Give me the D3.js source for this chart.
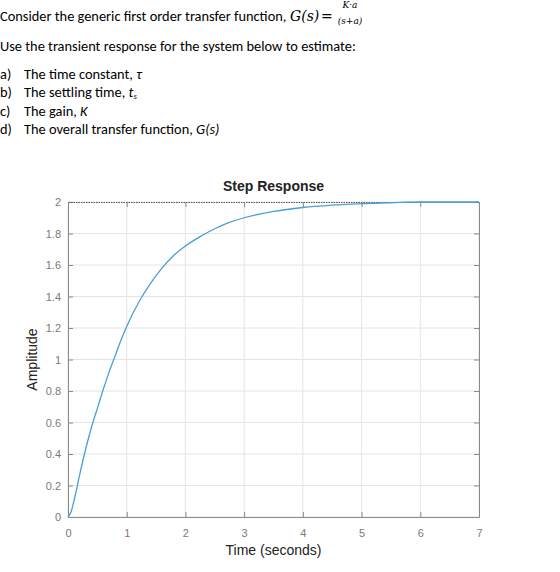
<!DOCTYPE html>
<html>
<head>
	<script type="text/javascript" src="https://cdn.jsdelivr.net/npm/d3@7"></script>
	<style type="text/css">
		body { margin: 0; background: #fff; }
		.doc { font-family: Carlito, Lato, "Open Sans", sans-serif; font-size: 14.4px; fill: #000; }
		.math { font-family: "DejaVu Serif", "Liberation Serif", serif; font-style: italic; fill: #000; }
		.axis path, .axis line { stroke: #8a8a8a; }
		.axis text { fill: #7a7a7a; font-family: "Liberation Sans", Arial, sans-serif; font-size: 11px; }
		.grid line { stroke: #e4e4e4; stroke-width: 1px; }
		.lbl { font-family: "Liberation Sans", Arial, sans-serif; fill: #222; }
	</style>
</head>
<body>
<script type="text/javascript">

var width = 560,
	height = 572;

// question text
var intro = "Consider the generic first order transfer function, ";
var lead = "Use the transient response for the system below to estimate:";
var items = [
	{ tag: "a)", text: "The time constant, ", sym: "\u03C4" },
	{ tag: "b)", text: "The settling time, ", sym: "t", sub: "s" },
	{ tag: "c)", text: "The gain, ", sym: "K" },
	{ tag: "d)", text: "The overall transfer function, ", sym: "G(s)" }
];

// step response
var time = [0, 0.05, 0.1, 0.2, 0.3, 0.4, 0.5, 0.6, 0.7, 0.8, 0.9, 1.0, 1.2, 1.4, 1.6, 1.8, 2.0, 2.25, 2.5, 2.75, 3, 3.5, 4, 4.5, 5, 5.5, 6, 7];
var amp = [0, 0.03, 0.1, 0.27, 0.43, 0.57, 0.69, 0.81, 0.92, 1.02, 1.12, 1.21, 1.36, 1.48, 1.58, 1.66, 1.72, 1.78, 1.83, 1.87, 1.9, 1.94, 1.965, 1.98, 1.99, 1.995, 2.0, 2.0];
var xTicks = [0, 1, 2, 3, 4, 5, 6, 7];
var yTicks = [0, 0.2, 0.4, 0.6, 0.8, 1, 1.2, 1.4, 1.6, 1.8, 2];

var svg = d3.select("body").append("svg")
	.attr("width", width)
	.attr("height", height);

// text block
svg.append("text").attr("class", "doc").attr("x", 0).attr("y", 21).text(intro);
svg.append("text").attr("class", "math").attr("x", 290).attr("y", 21).attr("font-size", 14).text("G(s)");
svg.append("text").attr("class", "math").attr("x", 321).attr("y", 21).attr("font-size", 14).attr("font-style", "normal").text("=");
svg.append("text").attr("class", "math").attr("x", 350).attr("y", 8).attr("font-size", 9).attr("text-anchor", "middle").text("K\u00B7a");
svg.append("text").attr("class", "math").attr("x", 350).attr("y", 24).attr("font-size", 9).attr("text-anchor", "middle").text("(s+a)");

svg.append("text").attr("class", "doc").attr("x", 0).attr("y", 51).text(lead);

var rows = svg.selectAll(".item")
	.data(items)
  .enter().append("text")
	.attr("class", "doc item")
	.attr("y", function(d, i) { return 79 + i * 18.3; });
rows.append("tspan").attr("x", 0).text(function(d) { return d.tag; });
rows.append("tspan").attr("x", 24).text(function(d) { return d.text; });
rows.append("tspan").attr("font-style", "italic").text(function(d) { return d.sym; });
rows.filter(function(d) { return d.sub; }).append("tspan")
	.attr("font-style", "italic").attr("font-size", 9).attr("dy", 2).text(function(d) { return d.sub; });

// plot
var x = d3.scaleLinear().domain([0, 7]).range([68, 479]);
var y = d3.scaleLinear().domain([0, 2]).range([517, 202]);

svg.append("g").attr("class", "grid").selectAll("line")
	.data(xTicks)
  .enter().append("line")
	.attr("x1", function(d) { return x(d); }).attr("x2", function(d) { return x(d); })
	.attr("y1", y(0)).attr("y2", y(2));
svg.append("g").attr("class", "grid").selectAll("line")
	.data(yTicks)
  .enter().append("line")
	.attr("y1", function(d) { return y(d); }).attr("y2", function(d) { return y(d); })
	.attr("x1", x(0)).attr("x2", x(7));

svg.append("g").attr("class", "axis")
	.attr("transform", "translate(0," + y(0) + ")")
	.call(d3.axisBottom(x).tickValues(xTicks).tickFormat(d3.format("d")).tickSizeInner(-5).tickSizeOuter(0).tickPadding(12));
svg.append("g").attr("class", "axis")
	.attr("transform", "translate(" + x(0) + ",0)")
	.call(d3.axisLeft(y).tickValues(yTicks).tickFormat(d3.format("~g")).tickSizeInner(-5).tickSizeOuter(0).tickPadding(7));
svg.append("g").attr("class", "axis")
	.attr("transform", "translate(" + x(7) + ",0)")
	.call(d3.axisRight(y).tickValues(yTicks).tickSizeInner(-5).tickSizeOuter(0).tickFormat(""));
var topAxis = svg.append("g").attr("class", "axis")
	.attr("transform", "translate(0," + y(2) + ")")
	.call(d3.axisTop(x).tickValues(xTicks).tickSizeInner(-5).tickSizeOuter(0).tickFormat(""));
topAxis.select("path").style("stroke", "#555").style("stroke-dasharray", "1.5,1");

svg.append("path")
	.datum(d3.zip(time, amp))
	.attr("fill", "none")
	.attr("stroke", "#4a9fd8")
	.attr("stroke-width", 1.3)
	.attr("d", d3.line()
		.x(function(d) { return x(d[0]); })
		.y(function(d) { return y(d[1]); })
		.curve(d3.curveMonotoneX));

svg.append("text").attr("class", "lbl")
	.attr("x", (x(0) + x(7)) / 2).attr("y", 191)
	.attr("text-anchor", "middle").attr("font-size", 14).attr("font-weight", "bold")
	.text("Step Response");
svg.append("text").attr("class", "lbl")
	.attr("x", (x(0) + x(7)) / 2).attr("y", 555)
	.attr("text-anchor", "middle").attr("font-size", 14)
	.text("Time (seconds)");
svg.append("text").attr("class", "lbl")
	.attr("transform", "translate(37," + (y(0) + y(2)) / 2 + ") rotate(-90)")
	.attr("text-anchor", "middle").attr("font-size", 14)
	.text("Amplitude");
</script>
</body>
</html>
